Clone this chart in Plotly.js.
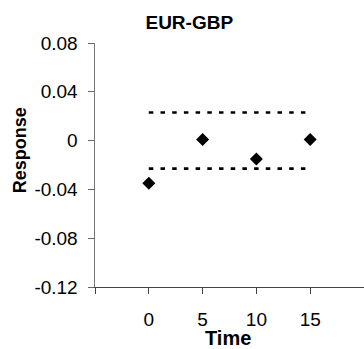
<!DOCTYPE html>
<html>
<head>
<meta charset="utf-8">
<script src="https://cdn.plot.ly/plotly-3.0.1.min.js"></script>
<style>html,body{margin:0;padding:0;background:#fff;}#chart{width:364px;height:349px;}</style>
</head>
<body>
<div id="chart"></div>
<script>
// Data
var times = [0, 5, 10, 15];
var responses = [-0.035, 0.001, -0.015, 0.001];
var bandTimes = [0, 15];
var upperBand = [0.023, 0.023];
var lowerBand = [-0.023, -0.023];
var xTickVals = [-5, 0, 5, 10, 15];
var xTickText = ['', '0', '5', '10', '15'];
var yTickVals = [-0.12, -0.08, -0.04, 0, 0.04, 0.08];
var yTickText = ['-0.12', '-0.08', '-0.04', '0', '0.04', '0.08'];

var FONT = 'Liberation Sans, Arial, sans-serif';
var dashLine = {color: '#000', width: 2.6, dash: '4.5px,7.2px'};

var traces = [
  {x: bandTimes, y: upperBand, mode: 'lines', line: dashLine, hoverinfo: 'skip', showlegend: false},
  {x: bandTimes, y: lowerBand, mode: 'lines', line: dashLine, hoverinfo: 'skip', showlegend: false},
  {x: times, y: responses, mode: 'markers', marker: {symbol: 'diamond', size: 10, color: '#000'}, showlegend: false}
];

var layout = {
  width: 364, height: 349,
  margin: {l: 95, r: 0, t: 43, b: 62},
  paper_bgcolor: '#fff', plot_bgcolor: '#fff',
  font: {family: FONT, size: 18, color: '#000'},
  title: {text: '<b>EUR-GBP</b>', font: {family: FONT, size: 19, color: '#000'},
          xref: 'container', x: 0.52, xanchor: 'center', yref: 'container', y: 0.937, yanchor: 'middle'},
  xaxis: {
    range: [-5, 20], tickvals: xTickVals, ticktext: xTickText,
    showgrid: false, zeroline: false, showline: true, linecolor: '#444', linewidth: 1,
    ticks: 'outside', ticklen: 6, tickcolor: '#444', tickwidth: 1,
    ticklabelstandoff: 9,
    tickfont: {family: FONT, size: 19, color: '#000'}
  },
  yaxis: {
    range: [-0.12, 0.08], tickvals: yTickVals, ticktext: yTickText,
    showgrid: false, zeroline: false, showline: true, linecolor: '#777', linewidth: 1.5,
    ticks: 'outside', ticklen: 6, tickcolor: '#666', tickwidth: 1,
    ticklabelstandoff: 6,
    tickfont: {family: FONT, size: 19, color: '#000'}
  },
  annotations: [
    {text: '<b>Response</b>', xref: 'paper', yref: 'paper', x: -0.279, y: 0.56,
     xanchor: 'center', yanchor: 'middle', textangle: -90, showarrow: false,
     font: {family: FONT, size: 18, color: '#000'}},
    {text: '<b>Time</b>', xref: 'paper', yref: 'paper', x: 0.494, y: -0.207,
     xanchor: 'center', yanchor: 'middle', showarrow: false,
     font: {family: FONT, size: 20, color: '#000'}}
  ]
};

Plotly.newPlot('chart', traces, layout, {displayModeBar: false, staticPlot: true});
</script>
</body>
</html>
